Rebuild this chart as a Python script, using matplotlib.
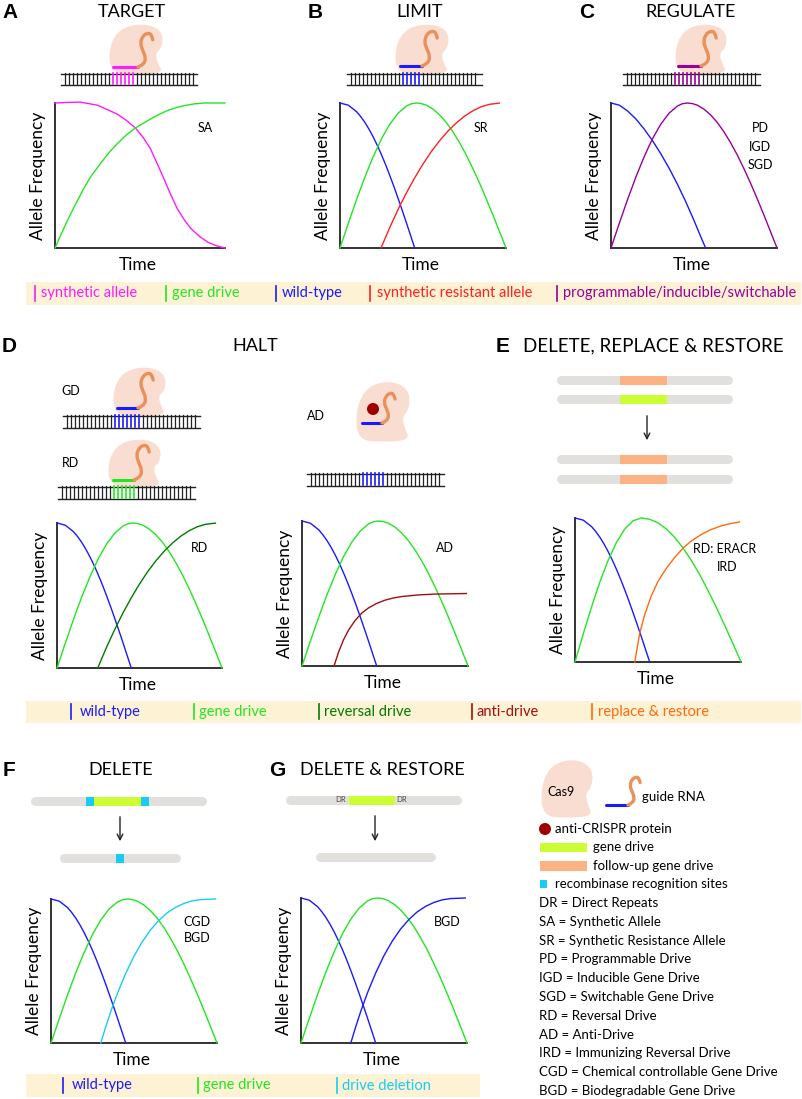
import numpy as np
import matplotlib
matplotlib.use("Agg")
from matplotlib import pyplot as plt
from matplotlib.path import Path
from matplotlib.patches import PathPatch, Rectangle, Circle

W, H = 803, 1099
plt.rcParams["font.family"] = ["Lato", "DejaVu Sans"]

# colours
MAGENTA = "#ff1aff"
GREEN = "#22e622"
BLUE = "#1a1aff"
RED = "#ff2020"
PURPLE = "#990099"
DKGREEN = "#007a00"
DKRED = "#a50d0d"
ORANGE = "#ff6a10"
CYAN = "#19ccf5"
PEACH = "#f9ddd0"
RNA = "#e8915a"
CHROM = "#e2e0dc"
LIME = "#ccff33"
FOLLOW = "#fbb383"
BAND = "#fdf2d3"

# ---- curve data (time fraction, allele frequency) ----
A_SYNTH_T = [0, 0.07, 0.148, 0.25, 0.365, 0.42, 0.473, 0.52, 0.562, 0.60, 0.641, 0.68, 0.72, 0.76, 0.80, 0.85, 0.897, 0.95, 1.0]
A_SYNTH_Y = [1.0, 1.004, 1.006, 0.985, 0.924, 0.88, 0.828, 0.76, 0.683, 0.585, 0.477, 0.37, 0.27, 0.195, 0.133, 0.08, 0.041, 0.015, 0.0]
A_DRIVE_T = [0, 0.03, 0.069, 0.12, 0.168, 0.215, 0.266, 0.315, 0.365, 0.42, 0.473, 0.562, 0.61, 0.66, 0.71, 0.76, 0.82, 0.878, 1.0]
A_DRIVE_Y = [0, 0.08, 0.179, 0.30, 0.408, 0.50, 0.58, 0.655, 0.718, 0.78, 0.828, 0.89, 0.92, 0.947, 0.967, 0.982, 0.994, 1.0, 1.0]

WT_T = [0, 0.05, 0.1, 0.125, 0.15, 0.175, 0.2, 0.225, 0.25, 0.275, 0.3, 0.325, 0.35, 0.375, 0.4, 0.425, 0.45]
WT_Y = [1.0, 0.985, 0.94, 0.906, 0.866, 0.819, 0.766, 0.707, 0.643, 0.574, 0.5, 0.423, 0.342, 0.259, 0.174, 0.087, 0.0]

DRIVE_T = [0, 0.05, 0.1, 0.15, 0.2, 0.25, 0.3, 0.35, 0.4, 0.43, 0.46, 0.49, 0.52, 0.56, 0.6, 0.64, 0.68, 0.72, 0.76, 0.8, 0.84, 0.88, 0.92, 0.96, 1.0]
DRIVE_Y = [0, 0.17, 0.335, 0.49, 0.63, 0.754, 0.854, 0.93, 0.979, 0.995, 1.0, 0.996, 0.985, 0.958, 0.918, 0.866, 0.802, 0.727, 0.643, 0.549, 0.449, 0.342, 0.231, 0.116, 0.0]

SR_T = [0.247, 0.30, 0.35, 0.40, 0.45, 0.50, 0.55, 0.60, 0.65, 0.70, 0.75, 0.80, 0.85, 0.90, 0.96]
SR_Y = [0, 0.142, 0.266, 0.38, 0.484, 0.579, 0.665, 0.74, 0.806, 0.862, 0.909, 0.946, 0.974, 0.991, 0.999]

C_WT_T = [0, 0.05, 0.1, 0.15, 0.2, 0.25, 0.3, 0.35, 0.4, 0.45, 0.5, 0.54, 0.57]
C_WT_Y = [1.0, 0.985, 0.945, 0.89, 0.82, 0.74, 0.65, 0.55, 0.44, 0.32, 0.19, 0.08, 0.0]

AD_T = [0.193, 0.22, 0.25, 0.28, 0.32, 0.36, 0.40, 0.45, 0.50, 0.55, 0.60, 0.70, 0.80, 0.90, 0.99]
AD_Y = [0, 0.095, 0.18, 0.247, 0.314, 0.365, 0.40, 0.432, 0.454, 0.469, 0.479, 0.49, 0.496, 0.498, 0.5]

E_DRIVE_T = [0, 0.05, 0.1, 0.15, 0.2, 0.25, 0.3, 0.35, 0.4, 0.45, 0.5, 0.55, 0.6, 0.65, 0.7, 0.75, 0.8, 0.85, 0.9, 0.95, 1.0]
E_DRIVE_Y = [0, 0.196, 0.383, 0.556, 0.707, 0.831, 0.924, 0.981, 1.0, 0.991, 0.966, 0.924, 0.866, 0.793, 0.707, 0.609, 0.5, 0.383, 0.259, 0.131, 0.0]
E_RR_T = [0.36, 0.375, 0.39, 0.42, 0.46, 0.50, 0.55, 0.60, 0.65, 0.70, 0.76, 0.82, 0.88, 0.94, 0.99]
E_RR_Y = [0, 0.10, 0.2, 0.33, 0.46, 0.56, 0.65, 0.725, 0.79, 0.84, 0.885, 0.92, 0.945, 0.962, 0.972]

DEL_T = [0.30, 0.33, 0.36, 0.40, 0.45, 0.50, 0.55, 0.60, 0.65, 0.70, 0.75, 0.80, 0.85, 0.90, 0.99]
DEL_Y = [0, 0.113, 0.218, 0.345, 0.483, 0.603, 0.703, 0.786, 0.852, 0.904, 0.942, 0.969, 0.987, 0.996, 1.0]

# legend bands: (label, colour)
BAND1 = [("synthetic allele", MAGENTA), ("gene drive", GREEN), ("wild-type", BLUE),
         ("synthetic resistant allele", RED), ("programmable/inducible/switchable", PURPLE)]
BAND2 = [("wild-type", BLUE), ("gene drive", GREEN), ("reversal drive", DKGREEN),
         ("anti-drive", DKRED), ("replace & restore", ORANGE)]
BAND3 = [("wild-type", BLUE), ("gene drive", GREEN), ("drive deletion", CYAN)]

KEY_TERMS = ["DR = Direct Repeats", "SA = Synthetic Allele", "SR = Synthetic Resistance Allele",
             "PD = Programmable Drive", "IGD = Inducible Gene Drive", "SGD = Switchable Gene Drive",
             "RD = Reversal Drive", "AD = Anti-Drive", "IRD = Immunizing Reversal Drive",
             "CGD = Chemical controllable Gene Drive", "BGD = Biodegradable Gene Drive"]

# ---- shapes (unit box, v upwards) ----
BLOB = [(0.0, 0.0), (-0.05, 0.5), (0.12, 0.9), (0.45, 1.06), (0.85, 1.04), (1.06, 0.85),
        (1.04, 0.55), (0.9, 0.42), (0.96, 0.2), (1.06, 0.0), (0.5, -0.04)]
GUIDE_S = [(0, 0), (5, 2), (7, 8), (4, 15), (2, 21), (4, 27), (8, 30), (12, 29), (13, 24)]

fig = plt.figure(figsize=(W / 100, H / 100), dpi=100)
bg = fig.add_axes([0, 0, 1, 1])
bg.set_xlim(0, W)
bg.set_ylim(H, 0)
bg.axis("off")


def smooth_closed(pts):
    n = len(pts)
    mids = [((pts[i][0] + pts[(i + 1) % n][0]) / 2, (pts[i][1] + pts[(i + 1) % n][1]) / 2) for i in range(n)]
    verts = [mids[-1]]
    codes = [Path.MOVETO]
    for i in range(n):
        verts += [pts[i], mids[i]]
        codes += [Path.CURVE3, Path.CURVE3]
    return Path(verts, codes)


def smooth_open(pts):
    verts = [pts[0]]
    codes = [Path.MOVETO]
    for i in range(1, len(pts) - 1):
        m = ((pts[i][0] + pts[i + 1][0]) / 2, (pts[i][1] + pts[i + 1][1]) / 2)
        if i == len(pts) - 2:
            m = pts[-1]
        verts += [pts[i], m]
        codes += [Path.CURVE3, Path.CURVE3]
    return Path(verts, codes)


def cas9(x0, y0, x1, y1):
    pts = [(x0 + u * (x1 - x0), y1 - v * (y1 - y0)) for u, v in BLOB]
    bg.add_patch(PathPatch(smooth_closed(pts), fc=PEACH, ec="none", zorder=1))


def guide(xa, xb, y, color, height):
    bg.plot([xa, xb], [y, y], color=color, lw=2.2, solid_capstyle="round", zorder=4)
    s = height / 30.0
    pts = [(xb + dx * s, y - dy * s) for dx, dy in GUIDE_S]
    bg.add_patch(PathPatch(smooth_open(pts), fc="none", ec=RNA, lw=2.4, capstyle="round", zorder=4))


def dna(x0, x1, yt, yb, h0, h1, color):
    bg.plot([x0, x1], [yt + 0.5, yt + 0.5], color="#222222", lw=1.0, zorder=3)
    bg.plot([x0, x1], [yb + 0.5, yb + 0.5], color="#222222", lw=1.0, zorder=3)
    for x in np.arange(x0 + 4.5, x1 - 3, 4.0):
        hl = h0 <= x <= h1
        bg.plot([x, x], [yt, yb], color=color if hl else "#222222",
                lw=1.2 if hl else 0.9, zorder=3)


def chrom(x0, x1, y, segs):
    bg.plot([x0 + 4.5, x1 - 4.5], [y, y], color=CHROM, lw=6.5, solid_capstyle="round", zorder=1)
    for a, b, c in segs:
        bg.add_patch(Rectangle((a, y - 4.5), b - a, 9, fc=c, ec="none", zorder=2))


def arrow(x, ya, yb):
    bg.annotate("", xy=(x, yb), xytext=(x, ya),
                arrowprops=dict(arrowstyle="->", lw=1.0, color="#222222", mutation_scale=10))


def curve_axes(x0, y0, x1, y1, curves):
    ax = fig.add_axes([x0 / W, 1 - y1 / H, (x1 - x0) / W, (y1 - y0) / H])
    ax.set_xlim(0, 1)
    ax.set_ylim(0, 1)
    ax.patch.set_visible(False)
    for side in ["top", "right"]:
        ax.spines[side].set_visible(False)
    for side in ["left", "bottom"]:
        ax.spines[side].set_linewidth(1.4)
        ax.spines[side].set_color("#333333")
    ax.set_xticks([])
    ax.set_yticks([])
    for t, y, c in curves:
        ax.plot(t, y, color=c, lw=1.0, clip_on=False, zorder=3)
    bg.text((x0 + x1) / 2 - 2, y1 + 17, "Time", ha="center", va="center", fontsize=12.5)
    bg.text(x0 - 17, (y0 + y1) / 2, "Allele Frequency", ha="center", va="center",
            rotation=90, fontsize=12.5)
    return ax


def band(x0, x1, y0, y1, entries, xs):
    bg.add_patch(Rectangle((x0, y0), x1 - x0, y1 - y0, fc=BAND, ec="none", zorder=0))
    yc = (y0 + y1) / 2
    for (lab, c), (bx, tx) in zip(entries, xs):
        bg.plot([bx, bx], [yc - 8, yc + 7], color=c, lw=1.2)
        bg.text(tx, yc, lab, color=c, ha="left", va="center", fontsize=10.5)


def label(x, y, s):
    bg.text(x, y, s, ha="center", va="center", fontsize=15, fontweight="bold",
            family="Liberation Sans")


def title(x, y, s):
    bg.text(x, y, s, ha="center", va="center", fontsize=13)


def note(x, y, s):
    bg.text(x, y, s, ha="center", va="center", fontsize=9)


# ---- row 1 ----
label(10, 12, "A")
title(132, 12, "TARGET")
cas9(111, 27, 160, 73)
dna(61, 197, 73, 84, 113, 137, MAGENTA)
guide(113, 138, 67, MAGENTA, 34)
curve_axes(55, 103, 225, 248, [(A_SYNTH_T, A_SYNTH_Y, MAGENTA), (A_DRIVE_T, A_DRIVE_Y, GREEN)])
note(205, 128, "SA")

label(315, 12, "B")
title(420, 12, "LIMIT")
cas9(397, 27, 446, 73)
dna(347, 482, 73, 84, 400, 423, BLUE)
guide(400, 422, 66, BLUE, 35)
curve_axes(340, 103, 506, 248, [(WT_T, WT_Y, BLUE), (DRIVE_T, DRIVE_Y, GREEN), (SR_T, SR_Y, RED)])
note(481, 128, "SR")

label(587, 12, "C")
title(691, 12, "REGULATE")
cas9(677, 27, 724, 73)
dna(623, 760, 73, 84, 675, 702, PURPLE)
guide(678, 701, 66, PURPLE, 35)
curve_axes(611, 103, 777, 248, [(C_WT_T, C_WT_Y, BLUE), (DRIVE_T, DRIVE_Y, PURPLE)])
note(760, 128, "PD")
note(760, 147, "IGD")
note(760, 165, "SGD")

band(26, 801, 282, 305, BAND1, [(35, 41), (166, 172), (276, 282), (370, 377), (557, 563)])

# ---- row 2 ----
label(9, 346, "D")
title(255, 346, "HALT")
note(71, 391, "GD")
cas9(115, 370, 163, 415)
dna(63, 200, 415, 427, 115, 140, BLUE)
guide(117, 138, 408, BLUE, 35)
note(71, 463, "RD")
cas9(110, 442, 158, 486)
dna(58, 195, 486, 498, 111, 136, GREEN)
guide(113, 134, 480, GREEN, 35)
note(316, 416, "AD")
cas9(358, 385, 407, 440)
bg.add_patch(Circle((373, 409), 6, fc="#a00000", ec="none", zorder=4))
guide(362, 382, 423, BLUE, 30)
dna(307, 444, 473, 485, 360, 385, BLUE)

curve_axes(57, 523, 222, 668, [(WT_T, WT_Y, BLUE), (DRIVE_T, DRIVE_Y, GREEN), (SR_T, SR_Y, DKGREEN)])
note(200, 548, "RD")
curve_axes(302, 521, 468, 666, [(WT_T, WT_Y, BLUE), (DRIVE_T, DRIVE_Y, GREEN), (AD_T, AD_Y, DKRED)])
note(445, 548, "AD")

label(503, 346, "E")
bg.text(523, 346, "DELETE, REPLACE & RESTORE", ha="left", va="center", fontsize=13.5)
chrom(557, 733, 380, [(620, 667, FOLLOW)])
chrom(557, 733, 399, [(620, 667, LIME)])
arrow(647, 413, 443)
chrom(557, 733, 459, [(620, 667, FOLLOW)])
chrom(557, 733, 479, [(620, 667, FOLLOW)])
curve_axes(575, 518, 741, 662, [(WT_T, WT_Y, BLUE), (E_DRIVE_T, E_DRIVE_Y, GREEN), (E_RR_T, E_RR_Y, ORANGE)])
note(725, 549, "RD: ERACR")
note(727, 567, "IRD")

band(26, 801, 701, 723, BAND2, [(71, 80), (194, 199), (319, 324), (472, 477), (592, 598)])

# ---- row 3 ----
label(9, 770, "F")
title(121, 770, "DELETE")
chrom(31, 207, 801, [(86, 94, CYAN), (94, 141, LIME), (141, 149, CYAN)])
arrow(120, 814, 844)
chrom(60, 181, 858, [(116, 124, CYAN)])
curve_axes(51, 899, 217, 1043, [(WT_T, WT_Y, BLUE), (DRIVE_T, DRIVE_Y, GREEN), (DEL_T, DEL_Y, CYAN)])
note(197, 922, "CGD")
note(197, 938, "BGD")

label(277, 770, "G")
title(382, 770, "DELETE & RESTORE")
chrom(286, 462, 800, [(349, 395, LIME)])
bg.text(341, 800, "DR", ha="center", va="center", fontsize=5.5, color="#444444")
bg.text(402, 800, "DR", ha="center", va="center", fontsize=5.5, color="#444444")
arrow(375, 813, 844)
chrom(316, 436, 857, [])
curve_axes(301, 898, 467, 1043, [(WT_T, WT_Y, BLUE), (DRIVE_T, DRIVE_Y, GREEN), (DEL_T, DEL_Y, BLUE)])
note(447, 922, "BGD")

band(26, 480, 1074, 1097, BAND3, [(63, 72), (198, 203), (337, 342)])

# ---- key ----
cas9(543, 763, 590, 816)
bg.text(561, 792, "Cas9", ha="center", va="center", fontsize=9)
guide(606, 628, 805, BLUE, 28)
bg.text(642, 797, "guide RNA", ha="left", va="center", fontsize=9.5)
bg.add_patch(Circle((545, 829), 6, fc="#a00000", ec="none"))
bg.text(555, 829, "anti-CRISPR protein", ha="left", va="center", fontsize=9.5)
bg.add_patch(Rectangle((540, 843), 47, 9, fc=LIME, ec="none"))
bg.text(593, 847, "gene drive", ha="left", va="center", fontsize=9.5)
bg.add_patch(Rectangle((540, 861), 47, 10, fc=FOLLOW, ec="none"))
bg.text(593, 866, "follow-up gene drive", ha="left", va="center", fontsize=9.5)
bg.add_patch(Rectangle((540, 880), 7, 8, fc=CYAN, ec="none"))
bg.text(555, 884, "recombinase recognition sites", ha="left", va="center", fontsize=9.5)
for i, term in enumerate(KEY_TERMS):
    bg.text(539, 903 + i * 18.8, term, ha="left", va="center", fontsize=9.5)

fig.savefig("out.png", dpi=100)
